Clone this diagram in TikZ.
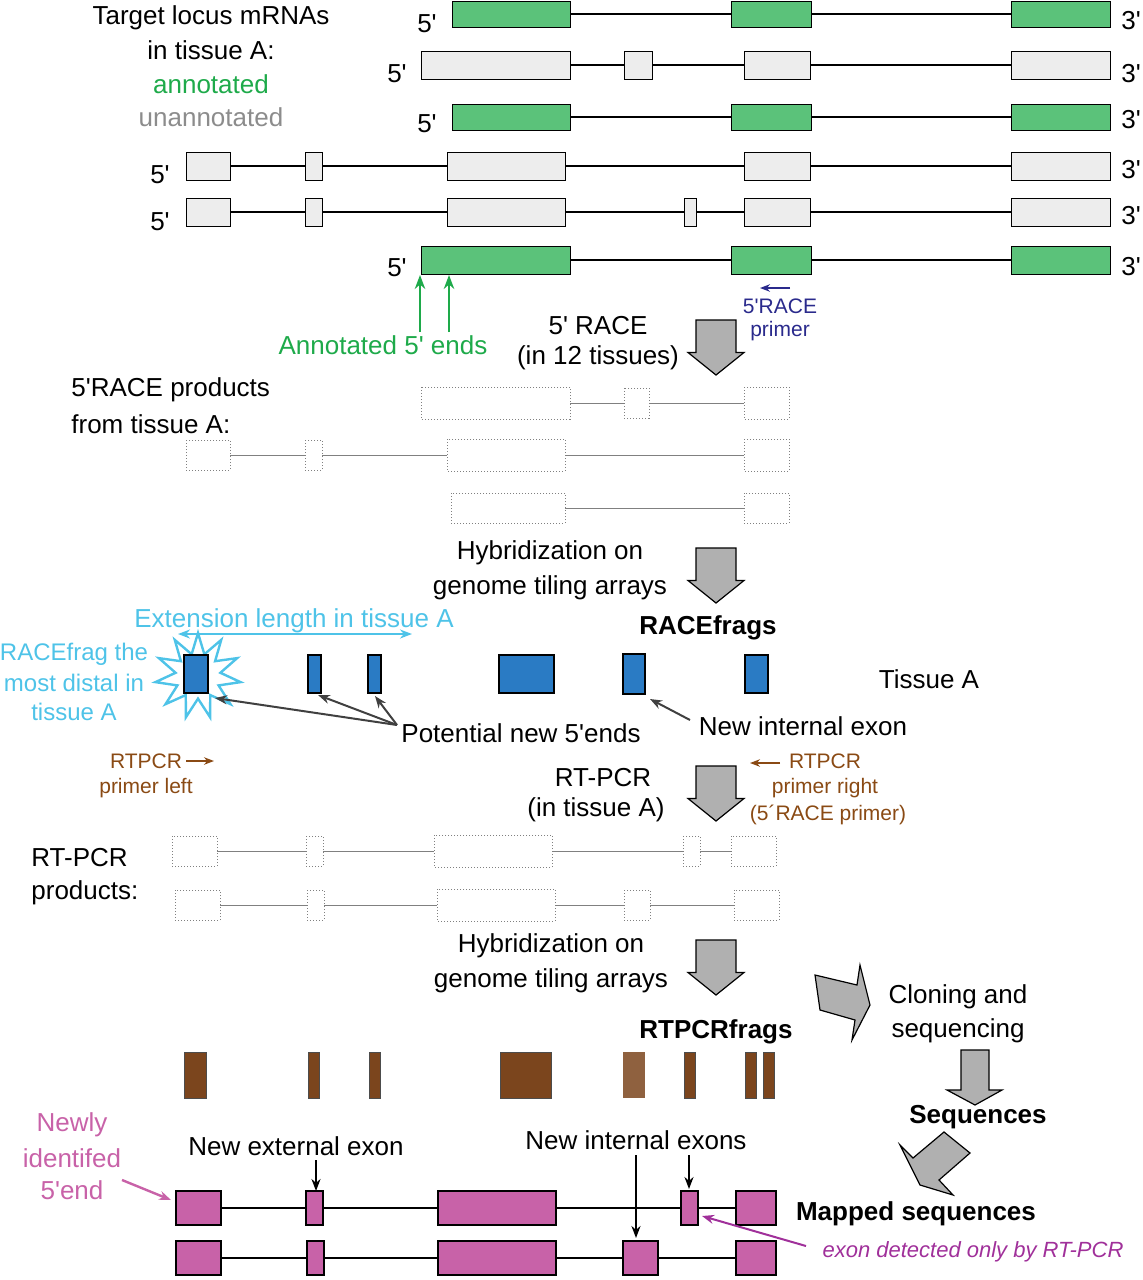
\documentclass[tikz,border=0pt]{standalone}
\usepackage{fontspec}
\setmainfont{Liberation Sans}
\usetikzlibrary{shapes.geometric,arrows.meta}
\definecolor{gex}{HTML}{5BC27A}
\definecolor{gfill}{HTML}{EDEDED}
\definecolor{bex}{HTML}{2A7BC4}
\definecolor{cy}{HTML}{4EC3E8}
\definecolor{brx}{HTML}{7B451D}
\definecolor{brt}{HTML}{8A4A14}
\definecolor{mag}{HTML}{C862A8}
\definecolor{pur}{HTML}{A0309A}
\definecolor{gtx}{HTML}{8C8C8C}
\definecolor{gtt}{HTML}{1EAA4A}
\definecolor{dbl}{HTML}{2A2A8C}
\definecolor{agray}{HTML}{B0B0B0}
\newcommand\q{\textquotesingle}
\newcommand\ex[5]{\draw[#5] (#1,#3-#4/2) rectangle (#2,#3+#4/2);}
\newcommand\intr[4]{\draw[#4] (#1,#3) -- (#2,#3);}
\newcommand\barrow[4]{\begin{scope}[shift={(#1,#2)},rotate=#3]
\draw[fill=agray,line width=0.6pt] (-27.5,-#4)--(5,-#4)--(5,-28)--(27.5,0)--(5,28)--(5,#4)--(-27.5,#4)--cycle;\end{scope}}
\begin{document}
\begin{tikzpicture}[x=0.5pt,y=-0.5pt,
  t/.style={font=\fontsize{13}{15}\selectfont,inner sep=0pt},
  tb/.style={t,font=\fontsize{13}{15}\selectfont\bfseries},
  g/.style={draw=black,fill=gex,line width=0.5pt},
  u/.style={draw=black,fill=gfill,line width=0.5pt},
  d/.style={draw=gray,densely dotted,line width=0.5pt,fill=white},
  dl/.style={draw=gray,line width=0.3pt},
  ln/.style={line width=0.6pt},
  bl/.style={draw=black,fill=bex,line width=0.6pt},
  br/.style={fill=brx,draw=black!70,line width=0.5pt},
  mg/.style={draw=black,fill=mag,line width=0.6pt}]
\useasboundingbox (0,0) rectangle (1142,1280);
% header text
\node[t] (h1) at (211,18) {Target locus mRNAs};
\node[t] (h2) at (211,50) {in tissue A:};
\node[t,text=gtt] (h3) at (211,84) {annotated};
\node[t,text=gtx] (h4) at (211,117) {unannotated};
% transcripts
\intr{570}{1011}{14}{ln}
\ex{452}{570}{14}{26}{g}\ex{731}{811}{14}{26}{g}\ex{1011}{1110}{14}{26}{g}
\node[t] at (427,24) {5\q};\node[t] at (1131,21) {3\q};
\intr{570}{1011}{65}{ln}
\ex{421}{570}{65}{28}{u}\ex{624}{652}{65}{28}{u}\ex{744}{810}{65}{28}{u}\ex{1011}{1110}{65}{28}{u}
\node[t] at (397,74) {5\q};\node[t] at (1131,74) {3\q};
\intr{570}{1011}{117}{ln}
\ex{452}{570}{117}{26}{g}\ex{731}{811}{117}{26}{g}\ex{1011}{1110}{117}{26}{g}
\node[t] at (427,124) {5\q};\node[t] at (1131,120) {3\q};
\intr{230}{1011}{166}{ln}
\ex{186}{230}{166}{28}{u}\ex{305}{322}{166}{28}{u}\ex{447}{565}{166}{28}{u}\ex{744}{810}{166}{28}{u}\ex{1011}{1110}{166}{28}{u}
\node[t] at (160,175) {5\q};\node[t] at (1131,170) {3\q};
\intr{230}{1011}{212}{ln}
\ex{186}{230}{212}{28}{u}\ex{305}{322}{212}{28}{u}\ex{447}{565}{212}{28}{u}\ex{684}{696}{212}{28}{u}\ex{744}{810}{212}{28}{u}\ex{1011}{1110}{212}{28}{u}
\node[t] at (160,222) {5\q};\node[t] at (1131,216) {3\q};
\intr{570}{1011}{260}{ln}
\ex{421}{570}{260}{28}{g}\ex{731}{811}{260}{28}{g}\ex{1011}{1110}{260}{28}{g}
\node[t] at (397,268) {5\q};\node[t] at (1131,267) {3\q};
% annotated 5' ends
\coordinate (a1) at (420,275);\coordinate (a2) at (449,275);
\coordinate (a1b) at (420,332);\coordinate (a2b) at (449,332);
\draw[gtt,line width=1pt,-{Stealth[length=7pt]}] (a1b) -- (a1);
\draw[gtt,line width=1pt,-{Stealth[length=7pt]}] (a2b) -- (a2);
\node[t,text=gtt] (ann) at (383,345) {Annotated 5\q{} ends};
\coordinate (p1) at (790,288);\coordinate (p2) at (760,288);
\draw[dbl,line width=1.2pt,-{Stealth[length=5pt]}] (p1) -- (p2);
\node[t,text=dbl,font=\fontsize{10.5}{12}\selectfont] at (780,306) {5\q RACE};
\node[t,text=dbl,font=\fontsize{10.5}{12}\selectfont] at (780,331) {primer};
\node[t] at (598,326) {5\q{} RACE};
\node[t] at (598,358) {(in 12 tissues)};
\barrow{716}{347.5}{-90}{20}
% 5'RACE products
\node[t,anchor=west] at (71,390) {5\q RACE products};
\node[t,anchor=west] at (71,424) {from tissue A:};
\intr{570}{744}{403}{dl}
\ex{421}{570}{403}{32}{d}\ex{624}{649}{403}{30}{d}\ex{744}{789}{403}{32}{d}
\intr{230}{744}{455}{dl}
\ex{186}{230}{455}{30}{d}\ex{305}{322}{455}{30}{d}\ex{447}{565}{455}{32}{d}\ex{744}{789}{455}{32}{d}
\intr{565}{744}{508}{dl}
\ex{451}{565}{508}{30}{d}\ex{744}{789}{508}{30}{d}
\node[t] at (550,553) {Hybridization on};
\node[t] at (550,588) {genome tiling arrays};
\barrow{716}{575.5}{-90}{20}
\node[tb] at (708,628) {RACEfrags};
% RACEfrags
\node[star,star points=11,star point ratio=1.9,draw=cy,line width=1.2pt,minimum size=43pt,inner sep=0pt] (st) at (198,676) {};
\ex{184}{208}{674}{38}{bl}\ex{308}{321}{674}{38}{bl}\ex{368}{381}{674}{38}{bl}\ex{499}{554}{674}{38}{bl}\ex{623}{645}{674}{40}{bl}\ex{745}{768}{674}{38}{bl}
\node[t] at (929,679) {Tissue A};
\coordinate (e1) at (178,634);\coordinate (e2) at (412,634);
\draw[cy,line width=1.2pt,{Stealth[length=6pt]}-{Stealth[length=6pt]}] (e1) -- (e2);
\node[t,text=cy] at (294,621) {Extension length in tissue A};
\node[t,text=cy,font=\fontsize{12}{14}\selectfont] at (74,654) {RACEfrag the};
\node[t,text=cy,font=\fontsize{12}{14}\selectfont] at (74,683) {most distal in};
\node[t,text=cy,font=\fontsize{12}{14}\selectfont] at (74,712) {tissue A};
\node[t] (pot) at (521,733) {Potential new 5\q ends};
\coordinate (q0) at (397,725);
\coordinate (q1) at (215,698);\coordinate (q2) at (318,695);\coordinate (q3) at (375,696);
\draw[black!75,line width=1pt,-{Stealth[length=6pt]}] (q0) -- (q1);
\draw[black!75,line width=1pt,-{Stealth[length=6pt]}] (q0) -- (q2);
\draw[black!75,line width=1pt,-{Stealth[length=6pt]}] (q0) -- (q3);
\node[t] (nie) at (803,726) {New internal exon};
\coordinate (n0) at (690,720);\coordinate (n1) at (650,699);
\draw[black!75,line width=1pt,-{Stealth[length=6pt]}] (n0) -- (n1);
% RT-PCR primers
\node[t,text=brt,font=\fontsize{10.5}{12}\selectfont] at (146,761) {RTPCR};
\node[t,text=brt,font=\fontsize{10.5}{12}\selectfont] at (146,788) {primer left};
\coordinate (l1) at (186,761);\coordinate (l2) at (214,761);
\draw[brt,line width=1.2pt,-{Stealth[length=5pt]}] (l1) -- (l2);
\coordinate (r1) at (780,763);\coordinate (r2) at (750,763);
\draw[brt,line width=1.2pt,-{Stealth[length=5pt]}] (r1) -- (r2);
\node[t,text=brt,font=\fontsize{10.5}{12}\selectfont] at (825,761) {RTPCR};
\node[t,text=brt,font=\fontsize{10.5}{12}\selectfont] at (825,788) {primer right};
\node[t,text=brt,font=\fontsize{10.5}{12}\selectfont] at (828,815) {(5´RACE primer)};
\node[t] at (603,778) {RT-PCR};
\node[t] at (596,810) {(in tissue A)};
\barrow{716}{793.5}{-90}{20}
% RT-PCR products
\node[t,anchor=west] at (31,858) {RT-PCR};
\node[t,anchor=west] at (31,893) {products:};
\intr{217}{731}{851}{dl}
\ex{172}{217}{851}{30}{d}\ex{306}{323}{851}{30}{d}\ex{434}{552}{851}{32}{d}\ex{683}{700}{851}{30}{d}\ex{731}{776}{851}{30}{d}
\intr{220}{734}{905}{dl}
\ex{175}{220}{905}{30}{d}\ex{307}{324}{905}{30}{d}\ex{437}{555}{905}{32}{d}\ex{624}{650}{905}{30}{d}\ex{734}{779}{905}{30}{d}
\node[t] at (551,946) {Hybridization on};
\node[t] at (551,981) {genome tiling arrays};
\barrow{716}{967.5}{-90}{20}
\node[tb] at (716,1032) {RTPCRfrags};
% RTPCRfrags
\ex{184}{206}{1075}{46}{br}\ex{308}{319}{1075}{46}{br}\ex{369}{380}{1075}{46}{br}\ex{500}{551}{1075}{46}{br}
\ex{623}{645}{1075}{46}{fill=brx!85!white,draw=none}\ex{684}{695}{1075}{46}{br}\ex{745}{756}{1075}{46}{br}\ex{763}{774}{1075}{46}{br}
% right-hand flow
\draw[fill=agray,line width=0.6pt] (815,975)--(857,985)--(860,965)--(870,1005)--(852,1040)--(855,1020)--(820,1010)--cycle;
\node[t] at (958,997) {Cloning and};
\node[t] at (958,1031) {sequencing};
\draw[fill=agray,line width=0.6pt] (961,1050)--(989,1050)--(989,1090)--(1002,1090)--(975,1105)--(947,1090)--(961,1090)--cycle;
\node[tb] at (978,1117) {Sequences};
\draw[fill=agray,line width=0.6pt] (944,1132)--(970,1153)--(939,1180)--(953,1195)--(920,1185)--(900,1145)--(913,1158)--cycle;
\node[tb] at (916,1214) {Mapped sequences};
% mapped
\node[t,text=mag] at (72,1125) {Newly};
\node[t,text=mag] at (72,1158) {identifed};
\node[t,text=mag] at (72,1190) {5\q end};
\coordinate (m1) at (122,1180);\coordinate (m2) at (171,1200);
\draw[mag,line width=1.2pt,-{Stealth[length=6pt]}] (m1) -- (m2);
\node[t] at (296,1146) {New external exon};
\node[t] at (636,1140) {New internal exons};
\coordinate (x1) at (316,1160);\coordinate (x2) at (316,1191);
\draw[line width=1pt,-{Stealth[length=6pt]}] (x1) -- (x2);
\coordinate (y1) at (636,1155);\coordinate (y2) at (636,1238);
\draw[line width=1pt,-{Stealth[length=6pt]}] (y1) -- (y2);
\coordinate (z1) at (689,1155);\coordinate (z2) at (689,1189);
\draw[line width=1pt,-{Stealth[length=6pt]}] (z1) -- (z2);
\intr{221}{736}{1208}{ln}
\ex{176}{221}{1208}{34}{mg}\ex{306}{323}{1208}{34}{mg}\ex{438}{556}{1208}{34}{mg}\ex{681}{698}{1208}{34}{mg}\ex{736}{776}{1208}{34}{mg}
\intr{221}{736}{1258}{ln}
\ex{176}{221}{1258}{34}{mg}\ex{307}{324}{1258}{34}{mg}\ex{438}{556}{1258}{34}{mg}\ex{623}{658}{1258}{34}{mg}\ex{736}{776}{1258}{34}{mg}
\node[t,text=pur,font=\fontsize{11}{13}\selectfont\itshape] at (973,1252) {exon detected only by RT-PCR};
\coordinate (w1) at (806,1246);\coordinate (w2) at (702,1216);
\draw[pur,line width=1pt,-{Stealth[length=6pt]}] (w1) -- (w2);
\end{tikzpicture}
\end{document}
